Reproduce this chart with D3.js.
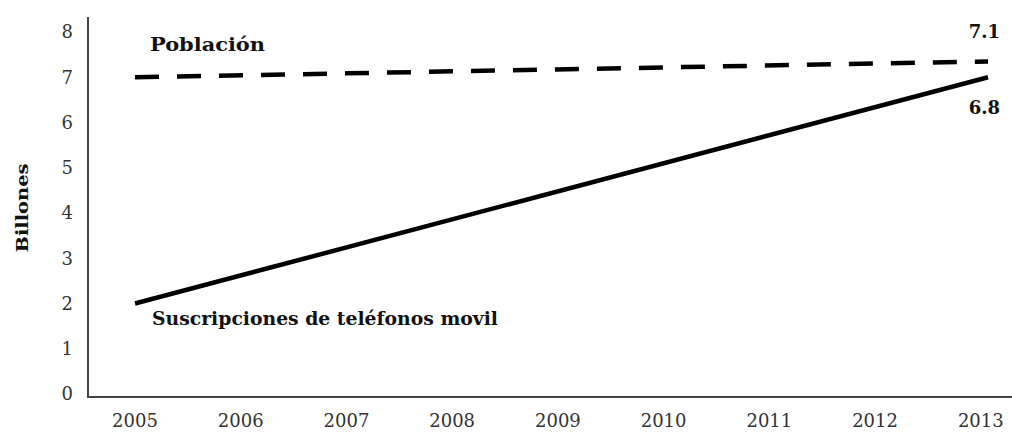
<!DOCTYPE html>
<html>
<head>
<meta charset="utf-8">
<script src="https://cdn.jsdelivr.net/npm/d3@7"></script>
<style>
  html, body { margin: 0; padding: 0; background: #fff; }
  svg { display: block; }
  text { font-family: "DejaVu Serif", "Liberation Serif", serif; }
</style>
</head>
<body>
<svg id="chart" width="1012" height="432"></svg>
<script>
// ---- data ----
const years = [2005, 2006, 2007, 2008, 2009, 2010, 2011, 2012, 2013];
const yTicks = [0, 1, 2, 3, 4, 5, 6, 7, 8];
const lineYears = [2005, 2013];
const poblacion = [7.0, 7.35];
const suscripciones = [2.0, 7.0];
const seriesNames = ["Población", "Suscripciones de teléfonos movil"];
const endLabels = ["7.1", "6.8"];
const yTitle = "Billones";

// ---- layout ----
const svg = d3.select("#chart");
const x = d3.scaleLinear().domain([2005, 2013]).range([135, 988]);
const y = d3.scaleLinear().domain([0, 8]).range([394, 32]);
const axisColor = "#444";

// axes lines
svg.append("line").attr("x1", 88).attr("x2", 88).attr("y1", 17).attr("y2", 397)
  .attr("stroke", axisColor).attr("stroke-width", 2);
svg.append("line").attr("x1", 87).attr("x2", 1012).attr("y1", 397).attr("y2", 397)
  .attr("stroke", axisColor).attr("stroke-width", 2);

// y tick labels
svg.append("g").selectAll("text").data(yTicks).join("text")
  .attr("x", 73).attr("y", d => y(d)).attr("dy", "0.36em")
  .attr("text-anchor", "end").attr("font-size", 18).attr("fill", "#333")
  .text(d => d);

// x tick labels
svg.append("g").selectAll("text").data(years).join("text")
  .attr("x", d => x(d) - (d - 2005) * 0.9).attr("y", 427)
  .attr("text-anchor", "middle").attr("font-size", 18).attr("fill", "#333")
  .text(d => d);

// y title
svg.append("text")
  .attr("transform", "translate(28,208) rotate(-90)")
  .attr("text-anchor", "middle").attr("font-size", 16).attr("font-weight", "bold")
  .attr("fill", "#111").attr("textLength", 89).attr("lengthAdjust", "spacingAndGlyphs")
  .text(yTitle);

const line = d3.line().x(d => x(d[0])).y(d => y(d[1]));

// population (dashed)
svg.append("path")
  .datum(lineYears.map((yr, i) => [yr, poblacion[i]]))
  .attr("d", line).attr("fill", "none").attr("stroke", "#000")
  .attr("stroke-width", 4.5).attr("stroke-dasharray", "24,18");

// subscriptions (solid)
svg.append("path")
  .datum(lineYears.map((yr, i) => [yr, suscripciones[i]]))
  .attr("d", line).attr("fill", "none").attr("stroke", "#000")
  .attr("stroke-width", 4.5);

// series labels
svg.append("text").attr("x", x(2005) + 15).attr("y", y(poblacion[0]) - 26)
  .attr("font-size", 18).attr("font-weight", "bold").attr("fill", "#111")
  .attr("textLength", 115).attr("lengthAdjust", "spacingAndGlyphs")
  .text(seriesNames[0]);
svg.append("text").attr("x", x(2005) + 17).attr("y", y(suscripciones[0]) + 21)
  .attr("font-size", 18).attr("font-weight", "bold").attr("fill", "#111")
  .attr("textLength", 346).attr("lengthAdjust", "spacingAndGlyphs")
  .text(seriesNames[1]);

// end value labels
svg.append("text").attr("x", x(2013) + 12).attr("y", y(poblacion[1]) - 23)
  .attr("text-anchor", "end").attr("font-size", 18).attr("font-weight", "bold")
  .attr("fill", "#111").text(endLabels[0]);
svg.append("text").attr("x", x(2013) + 12).attr("y", y(suscripciones[1]) + 37)
  .attr("text-anchor", "end").attr("font-size", 18).attr("font-weight", "bold")
  .attr("fill", "#111").text(endLabels[1]);
</script>
</body>
</html>
